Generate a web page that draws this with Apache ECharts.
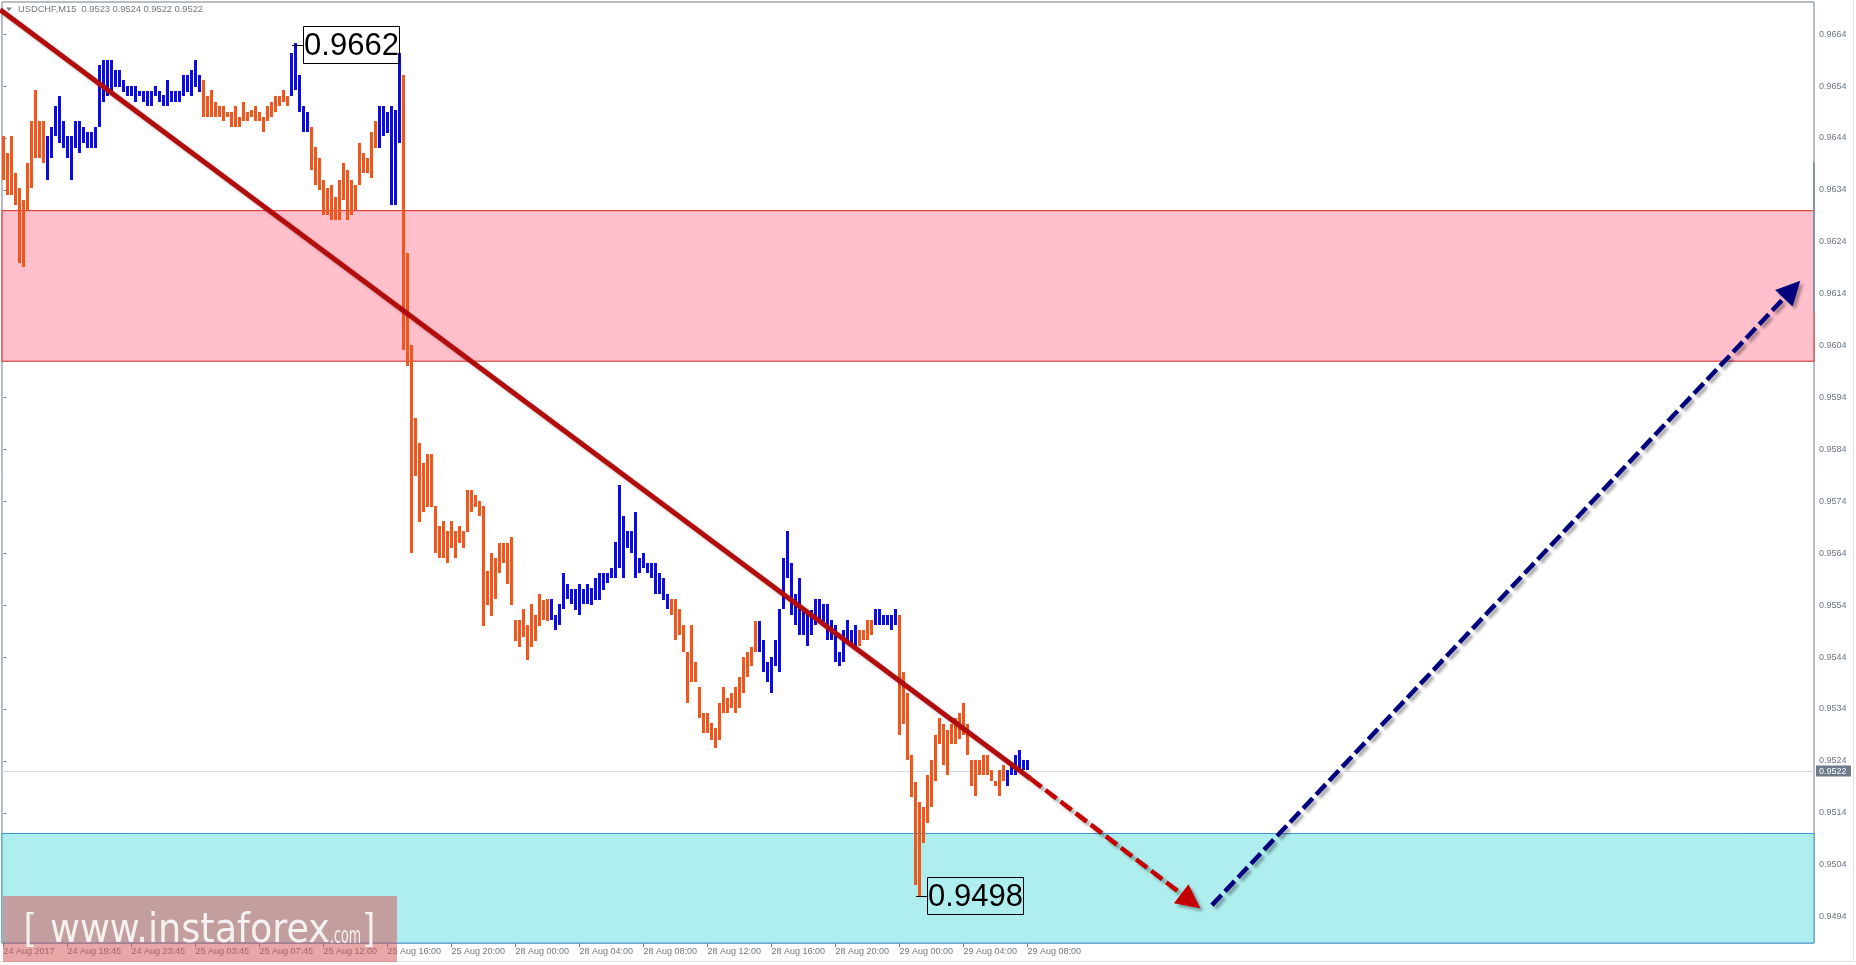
<!DOCTYPE html>
<html><head><meta charset="utf-8">
<script src="https://cdn.jsdelivr.net/npm/echarts@6/dist/echarts.min.js"></script>
<style>html,body{margin:0;padding:0;background:#fff;}#c{width:1856px;height:965px;}</style>
</head><body><div id="c"></div>
<script>
// ---------------- DATA ----------------
const timeLabels = ['24 Aug 2017','24 Aug 19:45','24 Aug 23:45','25 Aug 03:45','25 Aug 07:45','25 Aug 12:00',
  '25 Aug 16:00','25 Aug 20:00','28 Aug 00:00','28 Aug 04:00','28 Aug 08:00','28 Aug 12:00','28 Aug 16:00',
  '28 Aug 20:00','29 Aug 00:00','29 Aug 04:00','29 Aug 08:00'];
const timeLabelBars = [0,16,32,48,64,80,96,112,128,144,160,176,192,208,224,240,256];
const priceTicks = [0.9494,0.9504,0.9514,0.9524,0.9534,0.9544,0.9554,0.9564,0.9574,0.9584,
  0.9594,0.9604,0.9614,0.9624,0.9634,0.9644,0.9654,0.9664];

const highs = [
 0.96443,0.96411,0.96443,0.96372,0.96343,0.96321,0.96391,0.96472,0.96533,0.96472, // 0
 0.96472,0.96443,0.96462,0.96501,0.96520,0.96472,0.96443,0.96443,0.96472,0.96472, // 10
 0.96462,0.96452,0.96452,0.96462,0.96581,0.96590,0.96590,0.96590,0.96571,0.96571, // 20
 0.96552,0.96540,0.96540,0.96540,0.96531,0.96531,0.96531,0.96531,0.96540,0.96531, // 30
 0.96522,0.96552,0.96531,0.96531,0.96531,0.96562,0.96562,0.96571,0.96590,0.96562, // 40
 0.96552,0.96520,0.96533,0.96510,0.96501,0.96501,0.96491,0.96491,0.96501,0.96481, // 50
 0.96510,0.96491,0.96494,0.96501,0.96491,0.96481,0.96501,0.96510,0.96520,0.96520, // 60
 0.96533,0.96520,0.96603,0.96623,0.96562,0.96501,0.96491,0.96462,0.96423,0.96401, // 70
 0.96359,0.96343,0.96350,0.96327,0.96359,0.96391,0.96379,0.96359,0.96350,0.96430, // 80
 0.96411,0.96401,0.96452,0.96472,0.96501,0.96501,0.96491,0.96501,0.96494,0.96603, // 90
 0.96562,0.96219,0.96041,0.95900,0.95852,0.95813,0.95831,0.95831,0.95731,0.95693, // 100
 0.95702,0.95683,0.95702,0.95683,0.95693,0.95683,0.95762,0.95762,0.95752,0.95741, // 110
 0.95731,0.95605,0.95641,0.95630,0.95660,0.95660,0.95660,0.95672,0.95511,0.95511, // 120
 0.95532,0.95502,0.95542,0.95521,0.95561,0.95550,0.95551,0.95551,0.95521,0.95542, // 130
 0.95601,0.95581,0.95571,0.95571,0.95581,0.95571,0.95581,0.95573,0.95592,0.95601, // 140
 0.95601,0.95601,0.95611,0.95662,0.95772,0.95711,0.95682,0.95682,0.95720,0.95630, // 150
 0.95641,0.95621,0.95621,0.95621,0.95601,0.95592,0.95561,0.95551,0.95551,0.95532, // 160
 0.95502,0.95450,0.95502,0.95431,0.95382,0.95332,0.95332,0.95312,0.95303,0.95351, // 170
 0.95382,0.95361,0.95371,0.95382,0.95401,0.95441,0.95450,0.95460,0.95510,0.95510, // 180
 0.95472,0.95431,0.95441,0.95472,0.95532,0.95630,0.95682,0.95621,0.95561,0.95592, // 190
 0.95531,0.95531,0.95531,0.95551,0.95551,0.95542,0.95542,0.95511,0.95502,0.95450, // 200
 0.95492,0.95511,0.95492,0.95502,0.95492,0.95492,0.95511,0.95511,0.95532,0.95532, // 210
 0.95521,0.95521,0.95521,0.95532,0.95521,0.95412,0.95371,0.95251,0.95200,0.95161, // 220
 0.95152,0.95213,0.95242,0.95290,0.95322,0.95311,0.95300,0.95311,0.95322,0.95332, // 230
 0.95351,0.95311,0.95242,0.95242,0.95242,0.95251,0.95251,0.95222,0.95202,0.95222, // 240
 0.95232,0.95222,0.95232,0.95251,0.95261,0.95242,0.95242                          // 250
];
const lows = [
 0.96359,0.96330,0.96330,0.96311,0.96199,0.96192,0.96301,0.96343,0.96401,0.96401, // 0
 0.96391,0.96359,0.96401,0.96443,0.96430,0.96420,0.96401,0.96359,0.96420,0.96411, // 10
 0.96430,0.96420,0.96420,0.96420,0.96462,0.96510,0.96520,0.96529,0.96539,0.96539, // 20
 0.96529,0.96520,0.96520,0.96510,0.96520,0.96510,0.96501,0.96501,0.96520,0.96510, // 30
 0.96501,0.96501,0.96510,0.96510,0.96510,0.96520,0.96529,0.96520,0.96539,0.96529, // 40
 0.96481,0.96481,0.96481,0.96481,0.96481,0.96472,0.96481,0.96462,0.96462,0.96462, // 50
 0.96472,0.96472,0.96481,0.96472,0.96472,0.96452,0.96472,0.96481,0.96491,0.96501, // 60
 0.96510,0.96501,0.96520,0.96533,0.96491,0.96452,0.96452,0.96379,0.96350,0.96340, // 70
 0.96292,0.96292,0.96282,0.96282,0.96282,0.96321,0.96282,0.96292,0.96301,0.96350, // 80
 0.96372,0.96372,0.96363,0.96420,0.96420,0.96443,0.96449,0.96311,0.96311,0.96430, // 90
 0.96032,0.96001,0.95641,0.95789,0.95701,0.95720,0.95730,0.95730,0.95641,0.95630, // 100
 0.95630,0.95621,0.95651,0.95630,0.95660,0.95651,0.95680,0.95720,0.95730,0.95711, // 110
 0.95500,0.95540,0.95519,0.95551,0.95601,0.95621,0.95581,0.95540,0.95470,0.95460, // 120
 0.95479,0.95434,0.95460,0.95470,0.95500,0.95511,0.95510,0.95511,0.95492,0.95502, // 130
 0.95532,0.95551,0.95542,0.95531,0.95521,0.95542,0.95542,0.95540,0.95550,0.95550, // 140
 0.95569,0.95582,0.95592,0.95592,0.95611,0.95592,0.95650,0.95641,0.95592,0.95601, // 150
 0.95611,0.95601,0.95592,0.95561,0.95561,0.95550,0.95532,0.95521,0.95472,0.95482, // 160
 0.95450,0.95351,0.95391,0.95391,0.95322,0.95293,0.95293,0.95280,0.95265,0.95280, // 170
 0.95332,0.95332,0.95341,0.95332,0.95341,0.95371,0.95401,0.95422,0.95450,0.95450, // 180
 0.95411,0.95391,0.95371,0.95422,0.95411,0.95532,0.95592,0.95521,0.95502,0.95483, // 190
 0.95483,0.95461,0.95483,0.95502,0.95511,0.95502,0.95473,0.95473,0.95431,0.95422, // 200
 0.95431,0.95473,0.95461,0.95454,0.95461,0.95473,0.95473,0.95483,0.95502,0.95502, // 210
 0.95502,0.95502,0.95492,0.95502,0.95290,0.95311,0.95242,0.95171,0.95001,0.94978, // 220
 0.95081,0.95121,0.95152,0.95202,0.95273,0.95232,0.95213,0.95273,0.95273,0.95282, // 230
 0.95290,0.95251,0.95192,0.95172,0.95213,0.95213,0.95213,0.95202,0.95192,0.95172, // 240
 0.95202,0.95192,0.95213,0.95213,0.95222,0.95222,0.95222                          // 250
];
// bar direction: 1 = up (blue), -1 = down (orange)
const dirs = [
 -1,-1,-1,-1,-1,-1,-1,-1,-1,-1, -1,                       // 0-10
 1,1,1,1,1,1,1,1,1,1, 1,1,1,1,1,1,1,1,1,1, 1,1,1,1,1,1,1,1,1,1, 1,1,1,1,1,1,1,1,1, // 11-49
 -1,-1,-1,-1,-1,-1,-1,-1,-1,-1, -1,-1,-1,-1,-1,-1,-1,-1,-1,-1, -1,-1, // 50-71
 1,1,1,1,1,                                               // 72-76
 -1,-1,-1,-1,-1,-1,-1,-1,-1,-1, -1,-1,-1,-1,-1,-1,-1,     // 77-93
 1,1,1,1,1,1,                                             // 94-99
 -1,-1,-1,-1,-1,-1,-1,-1,-1,-1, -1,-1,-1,-1,-1,-1,-1,-1,-1,-1, -1,-1,-1,-1,-1,-1,-1,-1,-1,-1, -1,-1,-1,-1,-1,-1,-1, // 100-136
 1,1,1,1,1,1,1,1,1,1, 1,1,1,1,1,1,1,1,1,1, 1,1,1,1,1,1,1,1,1,1, // 137-166
 -1,-1,-1,-1,-1,-1,-1,-1,-1,-1, -1,-1,-1,-1,-1,-1,-1,-1,-1,-1, -1,-1, // 167-188
 1,1,1,1,1,1,1,1,1,1, 1,1,1,1,1,1,1,1,1,1, 1,1,1,1,1,      // 189-213
 -1,-1,-1,-1,                                             // 214-217
 1,1,1,1,1,1,                                             // 218-223
 -1,-1,-1,-1,-1,-1,-1,-1,-1,-1, -1,-1,-1,-1,-1,-1,-1,-1,-1,-1, -1,-1,-1,-1,-1,-1,-1, // 224-250
 1,1,1,1,1,1                                              // 251-256
];

const resistanceZone = [0.9601, 0.9630];
const supportZoneTop = 0.9510;
const lastPrice = 0.9522;
const headerText = 'USDCHF,M15  0.9523 0.9524 0.9522 0.9522';
const trendLine = [[-0.83, 0.96687], [256.7, 0.95206]];
const redArrow  = [[256.7, 0.95206], [299.2, 0.94956]];
const blueArrow = [[302.1, 0.94962], [449.2, 0.96165]];
const extremes = [[73, 0.9662, '0.9662'], [229, 0.9498, '0.9498']];

if (dirs.length !== highs.length || lows.length !== highs.length) {
  throw new Error('length mismatch ' + highs.length + ' ' + lows.length + ' ' + dirs.length);
}

// ---------------- CHART ----------------
const X_MIN = -0.375, X_MAX = 452.625;
const Y_MAX = 0.96702, Y_MIN = 0.948891;
const AXIS_COLOR = '#6f7d8b';
const LABEL_COLOR = '#6b7682';
const FONT = 'Tahoma, "Liberation Sans", Arial, sans-serif';
const UP = '#0c0ce0', DOWN = '#f2561a';
const WM_TEXT = 'rgba(255,255,255,0.85)';
const WM_MAIN_FONT = '40px "DejaVu Sans", Verdana, sans-serif';
const WM_COM_FONT = '23px "DejaVu Sans", Verdana, sans-serif';

// stretch factors so the watermark text fills the width it has in the reference
const mctx = document.createElement('canvas').getContext('2d');
mctx.font = WM_MAIN_FONT;
const wmMainScale = 280 / mctx.measureText('www.instaforex').width;
mctx.font = WM_COM_FONT;
const wmComScale = 31 / mctx.measureText('.com').width;

const chart = echarts.init(document.getElementById('c'), null, {renderer: 'canvas'});

const shadow = {shadowColor: 'rgba(0,0,0,0.33)', shadowBlur: 3, shadowOffsetX: 3, shadowOffsetY: 3};

function arrowRender(color) {
  return function (params, api) {
    const a = api.coord([api.value(0), api.value(1)]);
    const b = api.coord([api.value(2), api.value(3)]);
    const dx = b[0] - a[0], dy = b[1] - a[1], len = Math.hypot(dx, dy);
    const ux = dx / len, uy = dy / len, nx = -uy, ny = ux;
    const L = 24, W = 12;
    const bx = b[0] - ux * L, by = b[1] - uy * L;
    return {type: 'group', children: [
      {type: 'line', shape: {x1: a[0], y1: a[1], x2: bx + ux * 3, y2: by + uy * 3},
       style: Object.assign({stroke: color, lineWidth: 4.5, lineDash: [14, 5], lineCap: 'butt'}, shadow)},
      {type: 'polygon', shape: {points: [[b[0], b[1]], [bx + nx * W, by + ny * W], [bx - nx * W, by - ny * W]]},
       style: Object.assign({fill: color}, shadow)}
    ]};
  };
}

const option = {
  animation: false,
  backgroundColor: '#ffffff',
  grid: {left: 2, right: 42, top: 2, bottom: 22, show: true, borderColor: AXIS_COLOR, borderWidth: 1, backgroundColor: 'transparent'},
  xAxis: {
    type: 'value', min: X_MIN, max: X_MAX, position: 'bottom',
    axisLine: {show: false}, splitLine: {show: false},
    axisTick: {show: true, customValues: timeLabelBars, length: 4, lineStyle: {color: AXIS_COLOR}},
    axisLabel: {customValues: timeLabelBars, align: 'left', margin: 4, fontSize: 9, fontFamily: FONT, color: LABEL_COLOR,
      formatter: v => timeLabels[timeLabelBars.indexOf(Math.round(v))] || ''}
  },
  yAxis: {
    type: 'value', min: Y_MIN, max: Y_MAX, position: 'right',
    axisLine: {show: false}, splitLine: {show: false},
    axisTick: {show: true, customValues: priceTicks, length: 3, lineStyle: {color: AXIS_COLOR}},
    axisLabel: {customValues: priceTicks, margin: 5, fontSize: 9, fontFamily: FONT, color: LABEL_COLOR,
      formatter: v => v.toFixed(4)}
  },
  series: [
    { // zones
      type: 'line', data: [], z: 1, silent: true,
      markArea: {silent: true, data: [
        [{yAxis: resistanceZone[1], itemStyle: {color: '#ffc0cb', borderColor: '#d42424', borderWidth: 1}}, {yAxis: resistanceZone[0]}],
        [{yAxis: supportZoneTop, itemStyle: {color: '#afeeee', borderColor: '#3c96dc', borderWidth: 1}}, {yAxis: Y_MIN}]
      ]}
    },
    { // current price line + price tag on the scale
      type: 'custom', z: 2, silent: true, clip: false,
      data: [[0, lastPrice]],
      renderItem: function (params, api) {
        const cs = params.coordSys;
        const y = Math.round(api.coord([0, api.value(1)])[1]) + 0.5;
        const rx = cs.x + cs.width + 2;
        return {type: 'group', children: [
          {type: 'line', shape: {x1: cs.x, y1: y, x2: cs.x + cs.width, y2: y}, style: {stroke: '#d6daee', lineWidth: 1}},
          {type: 'rect', shape: {x: rx, y: y - 6, width: 35, height: 11}, style: {fill: '#6c7a89'}},
          {type: 'text', style: {text: lastPrice.toFixed(4), x: rx + 3, y: y, textVerticalAlign: 'middle',
            font: '9px ' + FONT, fill: '#ffffff'}}
        ]};
      }
    },
    { // price bars
      type: 'custom', z: 3, silent: true,
      data: highs.map((h, i) => [i, h, lows[i], dirs[i]]),
      encode: {x: 0, y: [1, 2]},
      renderItem: function (params, api) {
        const top = api.coord([api.value(0), api.value(1)]);
        const bot = api.coord([api.value(0), api.value(2)]);
        const x = Math.round(top[0] - 1.5);
        const y = Math.round(top[1]);
        const h = Math.max(Math.round(bot[1]) - y, 2);
        return {type: 'rect', shape: {x: x, y: y, width: 3, height: h},
          style: {fill: api.value(3) > 0 ? UP : DOWN}};
      }
    },
    { // main trend line
      type: 'line', z: 4, silent: true, clip: false, showSymbol: false, symbol: 'none',
      data: trendLine,
      lineStyle: {color: '#b30c0c', width: 5, shadowColor: 'rgba(0,0,0,0.25)', shadowBlur: 3, shadowOffsetX: 2, shadowOffsetY: 2}
    },
    { type: 'custom', z: 5, silent: true, clip: false,
      data: [[redArrow[0][0], redArrow[0][1], redArrow[1][0], redArrow[1][1]]],
      renderItem: arrowRender('#c40000') },
    { type: 'custom', z: 5, silent: true, clip: false,
      data: [[blueArrow[0][0], blueArrow[0][1], blueArrow[1][0], blueArrow[1][1]]],
      renderItem: arrowRender('#00007f') },
    { // extreme price labels
      type: 'custom', z: 6, silent: true, clip: false,
      data: extremes.map(e => [e[0], e[1]]),
      renderItem: function (params, api) {
        const p = api.coord([api.value(0), api.value(1)]);
        const txt = extremes[params.dataIndex][2];
        const bx = Math.round(p[0] + 7) + 0.5, by = Math.round(p[1] - 19) + 0.5;
        return {type: 'group', children: [
          {type: 'line', shape: {x1: p[0] - 3.5, y1: Math.round(p[1]) + 0.5, x2: bx, y2: Math.round(p[1]) + 0.5},
           style: {stroke: '#000', lineWidth: 1}},
          {type: 'rect', shape: {x: bx, y: by, width: 96, height: 37},
           style: {fill: 'transparent', stroke: '#000', lineWidth: 1}},
          {type: 'text', style: {text: txt, x: bx + 48, y: by + 19.5, textAlign: 'center', textVerticalAlign: 'middle',
            font: '31px "Liberation Sans", Arial, sans-serif', fill: '#000'}}
        ]};
      }
    }
  ],
  graphic: [
    {type: 'polygon', shape: {points: [[6, 7.5], [12, 7.5], [9, 11]]}, style: {fill: '#7b838c'}, z: 10},
    {type: 'text', x: 18, y: 9.5, style: {text: headerText, font: '9.3px ' + FONT, fill: '#707880', textVerticalAlign: 'middle'}, z: 10},
    {type: 'rect', shape: {x: 1813, y: 162, width: 2, height: 151}, style: {fill: '#8794a2'}, z: 10},
    {type: 'line', shape: {x1: 1853.5, y1: 0, x2: 1853.5, y2: 962}, style: {stroke: '#e2e2e2', lineWidth: 1}, z: 10},
    {type: 'line', shape: {x1: 0, y1: 961.5, x2: 1854, y2: 961.5}, style: {stroke: '#e2e2e2', lineWidth: 1}, z: 10},
    {type: 'rect', z: 20, shape: {x: 3, y: 896, width: 394, height: 66}, style: {fill: 'rgba(211,84,84,0.52)'}},
    {type: 'text', z: 21, x: 24, y: 929, style: {text: '[', font: '36px "Liberation Sans", Arial, sans-serif', fill: WM_TEXT, textVerticalAlign: 'middle'}},
    {type: 'text', z: 21, x: 50, y: 932, scaleX: wmMainScale, style: {text: 'www.instaforex', font: WM_MAIN_FONT, fill: WM_TEXT, textVerticalAlign: 'middle'}},
    {type: 'text', z: 21, x: 330, y: 937, scaleX: wmComScale, style: {text: '.com', font: WM_COM_FONT, fill: WM_TEXT, textVerticalAlign: 'middle'}},
    {type: 'text', z: 21, x: 365, y: 929, style: {text: ']', font: '36px "Liberation Sans", Arial, sans-serif', fill: WM_TEXT, textVerticalAlign: 'middle'}}
  ]
};
chart.setOption(option);
</script>
</body></html>
